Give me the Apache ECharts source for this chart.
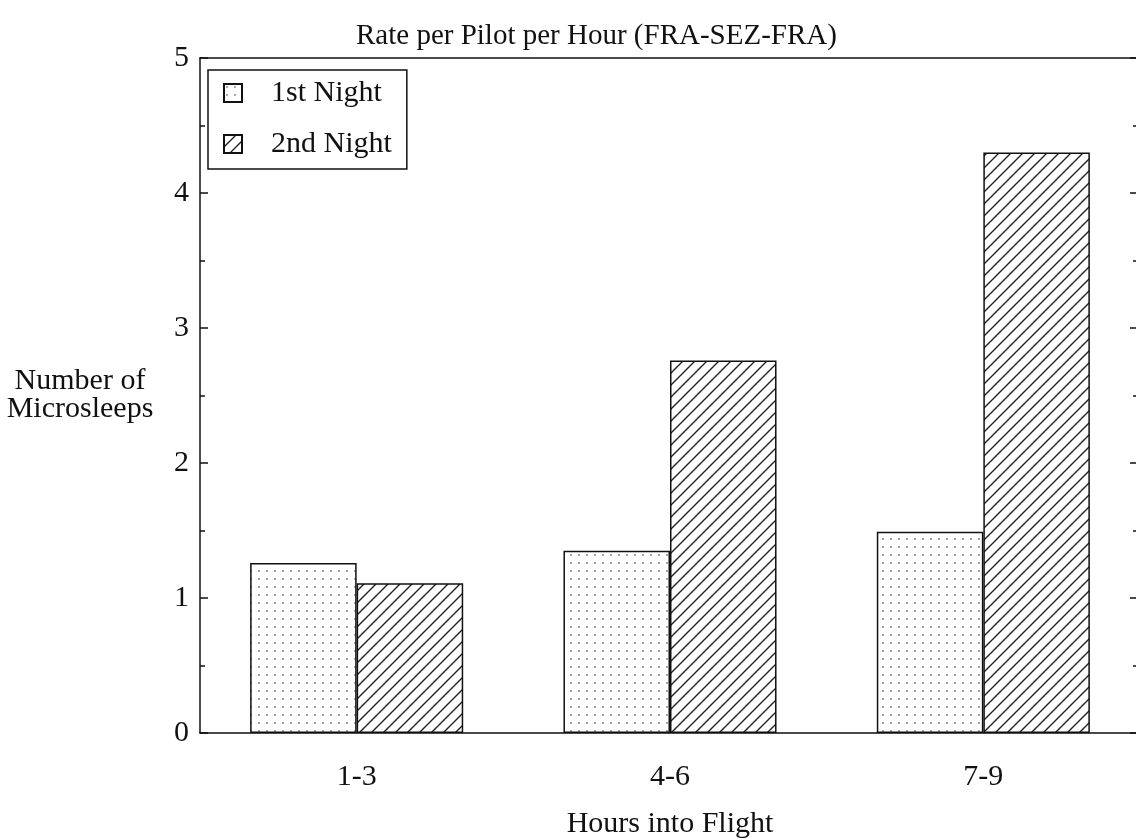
<!DOCTYPE html>
<html>
<head>
<meta charset="utf-8">
<script src="https://cdn.jsdelivr.net/npm/echarts@6/dist/echarts.min.js"></script>
<style>
html,body{margin:0;padding:0;background:#fff;}
#chart{width:1136px;height:839px;}
</style>
</head>
<body>
<div id="chart"></div>
<script>
const categories = ['1-3', '4-6', '7-9'];
const firstNight = [1.26, 1.35, 1.49];
const secondNight = [1.11, 2.76, 4.30];
const seriesNames = ['1st Night', '2nd Night'];
const yTicks = [0, 1, 2, 3, 4, 5];

function dotPattern() {
  const c = document.createElement('canvas');
  c.width = 8; c.height = 8;
  const ctx = c.getContext('2d');
  ctx.fillStyle = '#fff';
  ctx.fillRect(0, 0, 8, 8);
  ctx.fillStyle = '#808080';
  ctx.beginPath();
  ctx.arc(3, 3, 0.95, 0, Math.PI * 2);
  ctx.fill();
  return c;
}
function hatchPattern() {
  const s = 12;
  const c = document.createElement('canvas');
  c.width = s; c.height = s;
  const ctx = c.getContext('2d');
  ctx.fillStyle = '#fff';
  ctx.fillRect(0, 0, s, s);
  ctx.strokeStyle = '#222';
  ctx.lineWidth = 1.4;
  ctx.beginPath();
  ctx.moveTo(-2, s + 2); ctx.lineTo(s + 2, -2);
  ctx.moveTo(-2, 2); ctx.lineTo(2, -2);
  ctx.moveTo(s - 2, s + 2); ctx.lineTo(s + 2, s - 2);
  ctx.stroke();
  return c;
}

const FONT = "'Liberation Serif', 'DejaVu Serif', serif";
const FS = 30;
const chart = echarts.init(document.getElementById('chart'), null, {renderer: 'canvas'});
chart.setOption({
  animation: false,
  backgroundColor: '#fff',
  textStyle: {fontFamily: FONT, color: '#111'},
  title: {
    text: 'Rate per Pilot per Hour (FRA-SEZ-FRA)',
    left: 356, top: 22, padding: 0,
    textStyle: {fontFamily: FONT, fontSize: 29, fontWeight: 'normal', color: '#111'}
  },
  legend: {
    orient: 'vertical',
    left: 208, top: 70,
    padding: [8, 15, 10, 15],
    itemGap: 21,
    itemWidth: 18, itemHeight: 18,
    borderColor: '#111', borderWidth: 1.5,
    icon: 'rect',
    data: seriesNames,
    textStyle: {fontFamily: FONT, fontSize: FS, color: '#111', padding: [0, 0, 0, 24]}
  },
  grid: {
    left: 200, top: 58, width: 940, bottom: 106,
    outerBoundsMode: 'none',
    containLabel: false,
    show: false
  },
  xAxis: [{
    type: 'category',
    data: categories,
    boundaryGap: true,
    position: 'bottom',
    name: 'Hours into Flight',
    nameLocation: 'middle',
    nameGap: 76,
    nameTextStyle: {fontFamily: FONT, fontSize: FS, color: '#111'},
    axisLine: {onZero: false, lineStyle: {color: '#111', width: 1.5}},
    axisTick: {show: false},
    axisLabel: {fontFamily: FONT, fontSize: FS, color: '#111', margin: 29}
  }, {
    type: 'category',
    data: categories,
    boundaryGap: true,
    position: 'top',
    axisLine: {show: true, onZero: false, lineStyle: {color: '#111', width: 1.5}},
    axisTick: {show: false},
    axisLabel: {show: false}
  }],
  yAxis: [{
    type: 'value',
    min: yTicks[0], max: yTicks[yTicks.length - 1], interval: 1,
    name: 'Number of\nMicrosleeps',
    nameLocation: 'middle',
    nameRotate: 0,
    nameGap: 120,
    nameTextStyle: {fontFamily: FONT, fontSize: FS, color: '#111', align: 'center', lineHeight: 28, padding: [0, 0, 7, 0]},
    axisLine: {show: true, onZero: false, lineStyle: {color: '#111', width: 1.5}},
    axisTick: {show: true, inside: true, length: 8, lineStyle: {color: '#111', width: 1.5}},
    minorTick: {show: true, splitNumber: 2, length: 5, lineStyle: {color: '#111', width: 1.5}},
    splitLine: {show: false},
    axisLabel: {fontFamily: FONT, fontSize: FS, color: '#111', margin: 11}
  }, {
    type: 'value',
    position: 'right',
    min: yTicks[0], max: yTicks[yTicks.length - 1], interval: 1,
    axisLine: {show: false},
    axisTick: {show: true, inside: true, length: 10, lineStyle: {color: '#111', width: 1.5}},
    minorTick: {show: true, splitNumber: 2, length: 7, lineStyle: {color: '#111', width: 1.5}},
    splitLine: {show: false},
    axisLabel: {show: false}
  }],
  series: [{
    name: seriesNames[0],
    type: 'bar',
    data: firstNight,
    barGap: '0%',
    barCategoryGap: '32%',
    itemStyle: {color: {image: dotPattern(), repeat: 'repeat'}, borderColor: '#111', borderWidth: 1.5}
  }, {
    name: seriesNames[1],
    type: 'bar',
    data: secondNight,
    barGap: '0%',
    barCategoryGap: '32%',
    itemStyle: {color: {image: hatchPattern(), repeat: 'repeat'}, borderColor: '#111', borderWidth: 1.5}
  }]
});
</script>
</body>
</html>
